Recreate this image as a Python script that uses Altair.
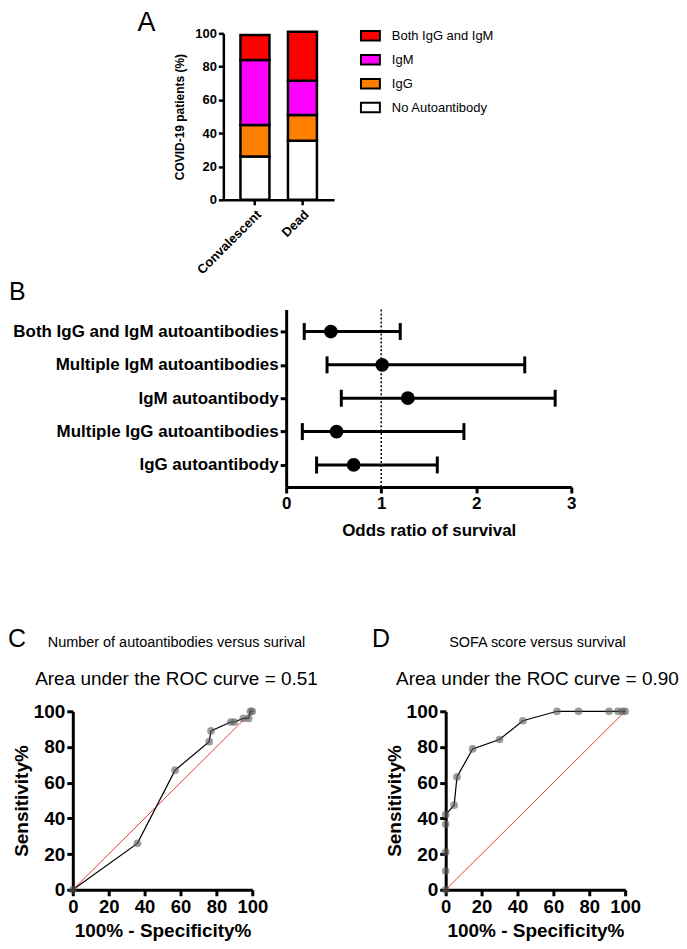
import altair as alt
import pandas as pd

FONT = "Liberation Sans, Arial, Helvetica, sans-serif"

# ---------------- Panel A data ----------------
groups = ["Convalescent", "Dead"]
legend_order = ["Both IgG and IgM", "IgM", "IgG", "No Autoantibody"]
stack_order = ["No Autoantibody", "IgG", "IgM", "Both IgG and IgM"]  # bottom -> top
conv_pct = [26, 19, 39, 15]
dead_pct = [35.5, 15.5, 20.5, 29.5]
legend_colors = ["#FF0000", "#FF00FF", "#FF8000", "#FFFFFF"]

# ---------------- Panel B data ----------------
b_labels = [
    "Both IgG and IgM autoantibodies",
    "Multiple IgM autoantibodies",
    "IgM autoantibody",
    "Multiple IgG autoantibodies",
    "IgG autoantibody",
]
b_or = [0.47, 1.01, 1.28, 0.53, 0.71]
b_low = [0.19, 0.43, 0.58, 0.17, 0.32]
b_high = [1.20, 2.51, 2.83, 1.87, 1.59]
b_ref = [1]

# ---------------- Panel C / D data ----------------
c_fpr = [0, 36, 57, 76, 77, 88, 90, 95, 98, 99, 100]
c_tpr = [0, 26, 67, 83, 89, 94, 94, 96, 96, 100, 100]
d_fpr = [0, 0, 0, 0, 0, 4.7, 6.3, 15, 30, 43, 62, 74, 91, 96, 98.5, 100]
d_tpr = [0, 10.5, 21.1, 36.8, 42.1, 47.4, 63.2, 78.9, 84.2, 94.7, 100, 100, 100, 100, 100, 100]
diag_x = [0, 100]
diag_y = [0, 100]

c_title = "Number of autoantibodies versus surival"
c_auc = "Area under the ROC curve = 0.51"
d_title = "SOFA score versus survival"
d_auc = "Area under the ROC curve = 0.90"


def letter(txt, x, y, w, h, size=26):
    return (
        alt.Chart(pd.DataFrame({"t": [txt]}))
        .mark_text(font=FONT, fontSize=size, align="left", baseline="top", color="black")
        .encode(text="t:N", x=alt.value(x), y=alt.value(y))
        .properties(width=w, height=h)
    )


# ---------------- Panel A ----------------
rowsA = []
for g, vals in zip(groups, [conv_pct, dead_pct]):
    for i, (c, v) in enumerate(zip(stack_order, vals)):
        rowsA.append({"group": g, "category": c, "pct": v, "ord": i})
dfA = pd.DataFrame(rowsA)

chartA = (
    alt.Chart(dfA)
    .mark_bar(stroke="black", strokeWidth=2.5)
    .encode(
        x=alt.X(
            "group:N",
            sort=groups,
            scale=alt.Scale(paddingInner=0.39, paddingOuter=0.36),
            axis=alt.Axis(
                title=None, labelAngle=-45, labelFontSize=13, labelFontWeight="bold",
                labelFont=FONT, tickSize=5, tickWidth=2.5, domainWidth=2.5, labelPadding=3,
            ),
        ),
        y=alt.Y(
            "pct:Q",
            stack="zero",
            scale=alt.Scale(domain=[0, 100], nice=False),
            axis=alt.Axis(
                values=[0, 20, 40, 60, 80, 100], title="COVID-19 patients (%)",
                titleFontSize=12, titleFontWeight="bold", titleFont=FONT, titlePadding=8,
                labelFontSize=13, labelFontWeight="bold", labelFont=FONT,
                tickSize=5, tickWidth=2.5, domainWidth=2.5, labelPadding=2,
                labelFlush=False,
            ),
        ),
        color=alt.Color(
            "category:N",
            scale=alt.Scale(domain=legend_order, range=legend_colors),
            legend=alt.Legend(
                title=None, orient="none", legendX=353, legendY=-8,
                symbolType="M-1,-0.5H1V0.5H-1Z", symbolSize=361,
                symbolStrokeColor="black", symbolStrokeWidth=2, symbolOpacity=1,
                labelFontSize=13, labelFont=FONT, labelColor="black",
                labelOffset=11, rowPadding=4,
            ),
        ),
        order=alt.Order("ord:Q", sort="ascending"),
    )
    .properties(width=111, height=167)
)

rowA = alt.hconcat(letter("A", 130, -23, 216, 247, 27), chartA, spacing=0, bounds="flush")

# ---------------- Panel B ----------------
dfB = pd.DataFrame({"label": b_labels, "or": b_or, "low": b_low, "high": b_high})
xaxB = alt.Axis(
    values=[0, 1, 2, 3], title="Odds ratio of survival", titleFontSize=17,
    titleFontWeight="bold", titleFont=FONT, titlePadding=11, labelFontSize=17,
    labelFontWeight="bold", labelFont=FONT, tickSize=6, tickWidth=3, domainWidth=3,
    labelPadding=3, labelFlush=False,
)
yaxB = alt.Axis(
    title=None, labelFontSize=17, labelFontWeight="bold", labelFont=FONT,
    tickSize=6, tickWidth=3, domainWidth=3, labelPadding=2, labelLimit=400,
)
xsB = alt.Scale(domain=[0, 3], nice=False)
ysB = alt.Scale(type="point", padding=0.66, domain=b_labels)


def xB(f):
    return alt.X(f, scale=xsB, axis=xaxB)


yB = alt.Y("label:N", scale=ysB, axis=yaxB)

baseB = alt.Chart(dfB)
refB = (
    alt.Chart(pd.DataFrame({"ref": b_ref}))
    .mark_rule(strokeDash=[2, 2], strokeWidth=1.5, color="black")
    .encode(x=xB("ref:Q"))
)
errB = baseB.mark_rule(strokeWidth=3, color="black").encode(x=xB("low:Q"), x2="high:Q", y=yB)
capLB = baseB.mark_tick(thickness=3, size=17, color="black", opacity=1).encode(x=xB("low:Q"), y=yB)
capHB = baseB.mark_tick(thickness=3, size=17, color="black", opacity=1).encode(x=xB("high:Q"), y=yB)
ptB = baseB.mark_circle(size=190, color="black", opacity=1).encode(x=xB("or:Q"), y=yB)
chartB = alt.layer(refB, errB, capLB, capHB, ptB).properties(width=286, height=178)

rowB = alt.hconcat(letter("B", 1, -30, 279, 319, 25), chartB, spacing=0, bounds="flush")

# ---------------- Panels C & D ----------------
xaxR = alt.Axis(
    values=[0, 20, 40, 60, 80, 100], title="100% - Specificity%", titleFontSize=19,
    titleFontWeight="bold", titleFont=FONT, titlePadding=5, labelFontSize=18.5,
    labelFontWeight="bold", labelFont=FONT, tickSize=6, tickWidth=3, domainWidth=3,
    labelPadding=2, labelOverlap=False, labelFlush=False,
)
yaxR = alt.Axis(
    values=[0, 20, 40, 60, 80, 100], title="Sensitivity%", titleFontSize=19,
    titleFontWeight="bold", titleFont=FONT, titlePadding=2, labelFontSize=19,
    labelFontWeight="bold", labelFont=FONT, tickSize=6, tickWidth=3, domainWidth=3,
    labelPadding=2, labelOverlap=False, labelFlush=False,
)


def roc(fpr, tpr, title, auc, dx):
    df = pd.DataFrame({"fpr": fpr, "tpr": tpr, "i": list(range(len(fpr)))})
    dg = pd.DataFrame({"fpr": diag_x, "tpr": diag_y})
    xe = alt.X("fpr:Q", scale=alt.Scale(domain=[0, 100], nice=False), axis=xaxR)
    ye = alt.Y("tpr:Q", scale=alt.Scale(domain=[0, 100], nice=False), axis=yaxR)
    d = alt.Chart(dg).mark_line(color="#E53E30", strokeWidth=1).encode(x=xe, y=ye)
    ln = alt.Chart(df).mark_line(color="black", strokeWidth=1.2).encode(x=xe, y=ye, order="i:Q")
    pt = alt.Chart(df).mark_circle(color="#5a5a5a", opacity=0.6, size=60).encode(x=xe, y=ye)
    return alt.layer(d, ln, pt).properties(
        width=180,
        height=179,
        title=alt.TitleParams(
            text=title, subtitle=auc, font=FONT, fontSize=14.5, fontWeight="normal",
            color="black", subtitleFont=FONT, subtitleFontSize=19, subtitleColor="black",
            subtitlePadding=20, offset=12, anchor="middle", dx=dx,
        ),
    )


chartC = roc(c_fpr, c_tpr, c_title, c_auc, 14)
chartD = roc(d_fpr, d_tpr, d_title, d_auc, 2)

rowCD = alt.hconcat(
    letter("C", 0, -84, 65, 179, 25),
    chartC,
    letter("D", 120, -84, 194, 179, 25),
    chartD,
    spacing=0,
    bounds="flush",
)

chart = (
    alt.vconcat(rowA, rowB, rowCD, spacing=0)
    .properties(padding=0)
    .configure_view(stroke=None)
    .configure_axis(
        grid=False, domainColor="black", tickColor="black", labelColor="black",
        titleColor="black",
    )
)

chart.save("out.html", embed_options={"renderer": "svg", "actions": False})
